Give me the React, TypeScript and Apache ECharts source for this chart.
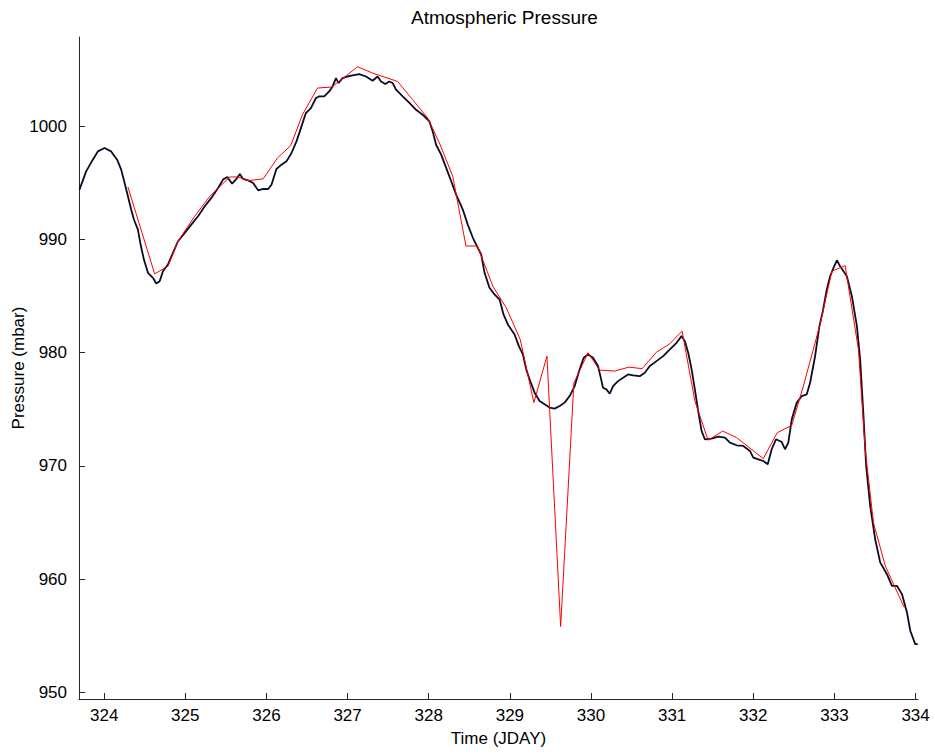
import React, { useEffect, useRef } from "react";
import * as echarts from "echarts";

// Measured pressure (black trace)
const measuredDay = [
  323.696, 323.778, 323.86, 323.922, 324.005, 324.086, 324.16, 324.21, 324.252, 324.293,
  324.333, 324.367, 324.416, 324.449, 324.49, 324.54, 324.601, 324.642, 324.684, 324.725,
  324.786, 324.848, 324.91, 324.993, 325.074, 325.157, 325.24, 325.321, 325.404, 325.465,
  325.519, 325.577, 325.63, 325.672, 325.712, 325.774, 325.836, 325.898, 325.959, 326.021,
  326.062, 326.123, 326.185, 326.247, 326.309, 326.37, 326.412, 326.486, 326.548, 326.61,
  326.651, 326.712, 326.774, 326.815, 326.857, 326.889, 326.938, 327.0, 327.062, 327.144,
  327.227, 327.309, 327.37, 327.412, 327.465, 327.515, 327.556, 327.598, 327.679, 327.762,
  327.844, 327.926, 328.009, 328.049, 328.091, 328.153, 328.215, 328.277, 328.338, 328.42,
  328.481, 328.543, 328.605, 328.647, 328.688, 328.749, 328.811, 328.873, 328.922, 328.975,
  329.058, 329.111, 329.16, 329.202, 329.243, 329.305, 329.367, 329.428, 329.49, 329.552,
  329.614, 329.675, 329.737, 329.799, 329.86, 329.91, 329.963, 330.025, 330.086, 330.116,
  330.148, 330.19, 330.231, 330.272, 330.333, 330.395, 330.457, 330.519, 330.601, 330.663,
  330.725, 330.807, 330.889, 330.972, 331.054, 331.116, 331.157, 331.198, 331.24, 331.28,
  331.321, 331.363, 331.404, 331.486, 331.568, 331.651, 331.712, 331.795, 331.877, 331.959,
  332.0, 332.062, 332.123, 332.178, 332.227, 332.28, 332.351, 332.391, 332.432, 332.474,
  332.536, 332.598, 332.659, 332.7, 332.762, 332.815, 332.857, 332.906, 332.947, 332.99,
  333.03, 333.07, 333.153, 333.215, 333.277, 333.317, 333.358, 333.391, 333.441, 333.502,
  333.564, 333.647, 333.709, 333.77, 333.832, 333.894, 333.935, 333.996, 334.027
];
const measuredPressure = [
  994.41, 996.03, 997.06, 997.79, 998.09, 997.79, 997.06, 996.18, 995.0, 993.82,
  992.65, 991.77, 990.88, 989.56, 988.23, 987.06, 986.62, 986.12, 986.32, 987.2,
  987.79, 988.83, 989.85, 990.59, 991.32, 992.06, 992.94, 993.68, 994.56, 995.3,
  995.53, 994.94, 995.36, 995.8, 995.36, 995.23, 995.0, 994.35, 994.47, 994.47,
  994.85, 996.24, 996.62, 996.91, 997.65, 998.68, 999.56, 1001.18, 1001.62, 1002.51,
  1002.65, 1002.65, 1003.09, 1003.53, 1004.27, 1003.83, 1004.27, 1004.41, 1004.5, 1004.62,
  1004.41, 1004.03, 1004.41, 1003.97, 1003.74, 1003.97, 1003.83, 1003.24, 1002.65, 1002.07,
  1001.47, 1001.03, 1000.44, 999.56, 998.38, 997.5, 996.33, 995.15, 993.97, 992.65,
  991.32, 990.18, 989.27, 988.68, 987.06, 985.74, 985.15, 984.7, 983.38, 982.5,
  981.61, 980.58, 979.85, 978.53, 977.64, 976.47, 975.73, 975.44, 975.15, 975.06,
  975.29, 975.59, 976.17, 977.05, 978.53, 979.56, 979.85, 979.56, 978.82, 977.93,
  976.91, 976.76, 976.38, 977.05, 977.49, 977.79, 978.08, 977.99, 977.93, 978.23,
  978.82, 979.26, 979.7, 980.29, 980.88, 981.47, 981.02, 980.0, 978.53, 976.76,
  974.85, 973.08, 972.35, 972.41, 972.59, 972.5, 972.06, 971.82, 971.76, 971.32,
  970.73, 970.58, 970.43, 970.14, 971.47, 972.35, 972.11, 971.47, 972.06, 974.11,
  975.59, 976.17, 976.32, 977.35, 979.7, 982.35, 983.67, 985.59, 986.76, 987.53,
  988.17, 987.64, 986.76, 985.0, 982.35, 979.41, 974.4, 969.99, 966.46, 963.52,
  961.47, 960.43, 959.4, 959.4, 958.67, 957.05, 955.43, 954.25, 954.25
];

// Coarse / modelled pressure (red trace)
const modelDay = [
  324.293, 324.622, 324.786, 324.91, 325.116, 325.301, 325.548, 325.651, 325.774, 325.959,
  326.136, 326.299, 326.444, 326.63, 326.807, 327.123, 327.309, 327.617, 327.802, 327.988,
  328.132, 328.296, 328.459, 328.601, 328.79, 328.956, 329.128, 329.296, 329.457, 329.626,
  329.789, 329.963, 330.107, 330.293, 330.469, 330.63, 330.807, 330.972, 331.123, 331.28,
  331.444, 331.622, 331.795, 332.123, 332.296, 332.474, 332.617, 332.823, 332.968, 333.132,
  333.296, 333.379, 333.481, 333.626, 333.86
];
const modelPressure = [
  994.65, 986.97, 987.64, 989.85, 992.06, 993.82, 995.53, 995.53, 995.21, 995.36,
  997.21, 998.3, 1001.03, 1003.39, 1003.48, 1005.27, 1004.71, 1003.97, 1002.36, 1000.74,
  998.53, 995.59, 989.43, 989.43, 985.88, 983.97, 981.17, 975.59, 979.7, 955.8,
  977.33, 980.0, 978.46, 978.38, 978.73, 978.59, 980.05, 980.79, 981.91, 975.73,
  972.26, 973.08, 972.5, 970.64, 972.94, 973.58, 977.05, 982.5, 987.2, 987.7,
  980.29, 971.46, 964.99, 961.17, 957.49
];

const xTicks = [324, 325, 326, 327, 328, 329, 330, 331, 332, 333, 334];
const yTicks = [950, 960, 970, 980, 990, 1000];

export default function App() {
  const ref = useRef<HTMLDivElement>(null);
  useEffect(() => {
    if (!ref.current) return;
    const chart = echarts.init(ref.current, undefined, { renderer: "svg" });
    const font = "'Liberation Sans', Arial, Helvetica, sans-serif";
    const axisColor = "#262626";
    chart.setOption({
      animation: false,
      backgroundColor: "#ffffff",
      title: {
        text: "Atmospheric Pressure",
        left: 406,
        top: 3,
        textStyle: { fontFamily: font, fontSize: 19, fontWeight: "normal", color: "#000" },
      },
      grid: { left: 79, right: 17, top: 37, bottom: 55, containLabel: false, outerBoundsMode: "none" },
      xAxis: {
        type: "value",
        min: 323.69,
        max: 334.03,
        name: "Time (JDAY)",
        nameLocation: "middle",
        nameGap: 31,
        nameMoveOverlap: false,
        nameTextStyle: { fontFamily: font, fontSize: 17, color: "#000" },
        axisLine: { show: true, lineStyle: { color: axisColor, width: 1 } },
        axisTick: { show: true, inside: true, length: 6, customValues: xTicks, lineStyle: { color: axisColor } },
        axisLabel: { customValues: xTicks, margin: 8, fontFamily: font, fontSize: 17, color: "#000", formatter: (v: number) => String(Math.round(v)) },
        splitLine: { show: false },
      },
      yAxis: {
        type: "value",
        min: 949.4,
        max: 1007.9,
        name: "Pressure (mbar)",
        nameLocation: "middle",
        nameGap: 52,
        nameRotate: 90,
        nameMoveOverlap: false,
        nameTextStyle: { fontFamily: font, fontSize: 17, color: "#000" },
        axisLine: { show: true, lineStyle: { color: axisColor, width: 1 } },
        axisTick: { show: true, inside: true, length: 6, customValues: yTicks, lineStyle: { color: axisColor } },
        axisLabel: { customValues: yTicks, margin: 12, fontFamily: font, fontSize: 17, color: "#000", formatter: (v: number) => String(Math.round(v)) },
        splitLine: { show: false },
      },
      series: [
        {
          type: "line",
          name: "Measured",
          data: measuredDay.map((d, i) => [d, measuredPressure[i]]),
          showSymbol: false,
          lineStyle: { color: "#0b0b26", width: 1.8 },
          z: 2,
        },
        {
          type: "line",
          name: "Model",
          data: modelDay.map((d, i) => [d, modelPressure[i]]),
          showSymbol: false,
          lineStyle: { color: "#ff0000", width: 1 },
          z: 3,
        },
      ],
    });
    return () => chart.dispose();
  }, []);
  return <div ref={ref} style={{ position: "fixed", left: 0, top: 0, width: 935, height: 754 }} />;
}
